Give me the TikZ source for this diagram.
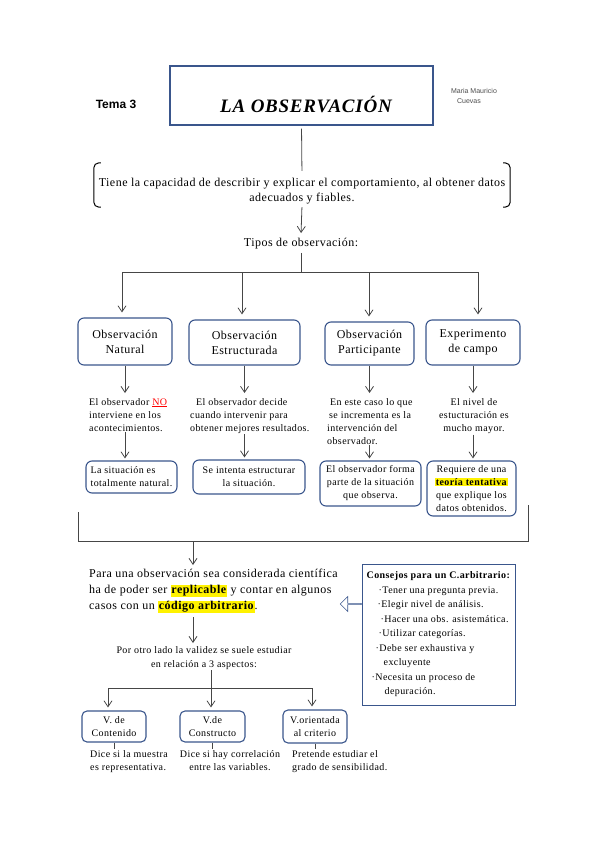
\documentclass[tikz,border=0pt]{standalone}
\usepackage{fontspec}
\setmainfont[LetterSpace=4]{Liberation Serif}
\newfontfamily\headfont{Liberation Sans}
\usepackage{tikz}
\usetikzlibrary{arrows.meta,shapes.arrows}
\definecolor{boxblue}{RGB}{58,86,140}
\definecolor{linegray}{RGB}{70,70,70}
\newcommand{\markword}[1]{{\setlength{\fboxsep}{0.5pt}\colorbox{yellow}{\textbf{#1}}}}
\tikzset{
  obs line/.style={draw=linegray, line width=0.8pt},
  obs arrow/.style={obs line, -{Straight Barb[length=6pt,width=8pt]}},
  type box/.style={draw=boxblue, line width=1.1pt, rounded corners=6pt, align=center,
    font=\fontsize{12}{15}\selectfont, inner sep=1pt},
  sub box/.style={type box, font=\fontsize{10}{13}\selectfont},
  val box/.style={type box, rounded corners=5pt, font=\fontsize{10}{12.5}\selectfont},
  note/.style={align=left, font=\fontsize{10}{13}\selectfont, inner sep=1pt},
}
\begin{document}
\begin{tikzpicture}[x=1pt,y=-1pt]
\useasboundingbox (0,0) rectangle (599,848);

% title
\node[draw=boxblue, line width=1.2pt, minimum width=263pt, minimum height=59pt] (titlebox) at (301.5,95.5) {};
\node[font=\fontsize{19}{21}\selectfont\bfseries\itshape] (titletext) at (306,104) {LA OBSERVACIÓN};
\node[font=\headfont\bfseries\fontsize{12}{14}\selectfont] (tema) at (116,104) {Tema 3};
\node[font=\headfont\fontsize{7}{10}\selectfont, text=gray!60!black, align=left] (autor) at (474,96) {Maria Mauricio\\\hspace{6pt}Cuevas};

\node[align=center, minimum width=416pt, font=\fontsize{12}{15}\selectfont, inner sep=1pt] (desc) at (302,191)
  {Tiene la capacidad de describir y explicar el comportamiento, al obtener datos\\adecuados y fiables.};
\draw[obs line, shorten <=3pt, shorten >=6pt] (titlebox.south) -- (desc.north);
\draw[line width=1pt, rounded corners=5pt] ([xshift=7pt,yshift=14pt]desc.north west) -- ([yshift=14pt]desc.north west)
  -- ([yshift=-2pt]desc.south west) -- ([xshift=7pt,yshift=-2pt]desc.south west);
\draw[line width=1pt, rounded corners=5pt] ([xshift=-7pt,yshift=14pt]desc.north east) -- ([yshift=14pt]desc.north east)
  -- ([yshift=-2pt]desc.south east) -- ([xshift=-7pt,yshift=-2pt]desc.south east);

\node[font=\fontsize{12}{15}\selectfont] (tipos) at (301,244) {Tipos de observación:};
\draw[obs arrow, shorten <=2pt, shorten >=2pt] (desc.south) -- (tipos.north);

% types
\node[type box, minimum width=94pt, minimum height=47pt] (natural) at (125,341.5) {Observación\\Natural};
\node[type box, minimum width=111pt, minimum height=45pt] (estruct) at (244.5,342.5) {Observación\\Estructurada};
\node[type box, minimum width=89pt, minimum height=43pt] (partic) at (369.5,343.5) {Observación\\Participante};
\node[type box, minimum width=94pt, minimum height=45pt] (campo) at (473,342.5) {Experimento\\de campo};

\coordinate (split a) at (122,272);
\coordinate (split b) at (242,272);
\coordinate (split c) at (369,272);
\coordinate (split d) at (478,272);
\draw[obs line] (tipos.south) -- (tipos.south |- split a);
\draw[obs line] (split a) -- (split d);
\foreach \s/\t in {a/natural, b/estruct, c/partic, d/campo}
  \draw[obs arrow, shorten >=5pt] (split \s) -- (split \s |- \t.north);

% notes
\node[note, anchor=north west] (nat note) at (88,397)
  {El observador \textcolor{red}{\underline{NO}}\\interviene en los\\acontecimientos.};
\node[note, anchor=north west] (est note) at (189,397)
  {\hspace{6pt}El observador decide\\cuando intervenir para\\obtener mejores resultados.};
\node[note, anchor=north west] (par note) at (326,397)
  {\hspace{3pt}En este caso lo que\\\hspace{2pt}se incrementa es la\\intervención del\\observador.};
\node[note, anchor=north, align=center] (exp note) at (474,397)
  {El nivel de\\estucturación es\\mucho mayor.};
\foreach \t/\n in {natural/nat note, estruct/est note, partic/par note, campo/exp note}
  \draw[obs arrow, shorten >=4pt] (\t.south) -- (\t.south |- \n.north);

\node[sub box, align=left, minimum width=91pt, minimum height=32pt] (nat box) at (131.5,477)
  {La situación es\\totalmente natural.};
\node[sub box, minimum width=112pt, minimum height=34pt] (est box) at (249,477)
  {Se intenta estructurar\\la situación.};
\node[sub box, minimum width=101pt, minimum height=45pt] (par box) at (370.5,483.5)
  {El observador forma\\parte de la situación\\que observa.};
\node[sub box, minimum width=89pt, minimum height=55pt] (exp box) at (471.5,488.5)
  {Requiere de una\\\markword{teoría tentativa}\\que explique los\\datos obtenidos.};
\foreach \t/\n/\b in {natural/nat note/nat box, estruct/est note/est box, partic/par note/par box, campo/exp note/exp box}
  \draw[obs arrow, shorten >=2pt] (\t.south |- \n.south) -- (\t.south |- \b.north);

% join
\coordinate (join a) at (78,512);
\coordinate (join b) at (78,541);
\coordinate (join c) at (528,541);
\coordinate (join d) at (528,505);
\coordinate (join m) at (193,541);
\draw[obs line] (join a) -- (join b) -- (join c) -- (join d);

\node[note, anchor=north west, font=\fontsize{12}{16}\selectfont] (para) at (88,568)
  {Para una observación sea considerada científica\\ha de poder ser \markword{replicable} y contar en algunos\\casos con un \markword{código arbitrario}.};
\draw[obs arrow, shorten >=3pt] (join m) -- (join m |- para.north);

\node[draw=boxblue, line width=1pt, minimum width=153pt, minimum height=141pt, align=left,
  font=\fontsize{10}{14.5}\selectfont, inner sep=0pt] (consejos) at (438.5,634.5)
  {\textbf{Consejos para un C.arbitrario:}\\
   \hspace{12pt}·Tener una pregunta previa.\\
   \hspace{11pt}·Elegir nivel de análisis.\\
   \hspace{14pt}·Hacer una obs. asistemática.\\
   \hspace{12pt}·Utilizar categorías.\\
   \hspace{9pt}·Debe ser exhaustiva y\\
   \hspace{17pt}excluyente\\
   \hspace{5pt}·Necesita un proceso de\\
   \hspace{18pt}depuración.};
\node[single arrow, draw=boxblue, line width=0.6pt, shape border rotate=180, minimum height=21pt,
  minimum width=15pt, single arrow head extend=3.5pt, inner sep=0pt] (hint) at (351,604) {};

\node[align=center, font=\fontsize{10}{14}\selectfont, inner sep=1pt, anchor=north] (otro) at (204,645)
  {Por otro lado la validez se suele estudiar\\en relación a 3 aspectos:};
\draw[obs arrow, shorten <=3pt, shorten >=2pt] (join m |- para.south) -- (join m |- otro.north);

% validity
\node[val box, minimum width=64pt, minimum height=31pt] (contenido) at (114,726.5) {V. de\\Contenido};
\node[val box, minimum width=65pt, minimum height=31pt] (constructo) at (212.5,726.5) {V.de\\Constructo};
\node[val box, minimum width=64pt, minimum height=33pt] (criterio) at (315,726.5) {V.orientada\\al criterio};

\coordinate (val a) at (108,688);
\coordinate (val b) at (211,688);
\coordinate (val c) at (312,688);
\draw[obs line] (val a) -- (val c);
\draw[obs arrow, shorten >=3pt] (val b |- otro.south) -- (val b |- constructo.north);
\draw[obs arrow, shorten >=3pt] (val a) -- (val a |- contenido.north);
\draw[obs arrow, shorten >=3pt] (val c) -- (val c |- criterio.north);

\node[note, anchor=north west] (muestra) at (89,749) {Dice si la muestra\\es representativa.};
\node[note, anchor=north, align=center] (correl) at (230,749) {Dice si hay correlación\\entre las variables.};
\node[note, anchor=north west] (sensib) at (291,749) {Pretende estudiar el\\grado de sensibilidad.};
\foreach \t/\n in {contenido/muestra, constructo/correl, criterio/sensib}
  \draw[obs line] (\t.south) -- (\t.south |- \n.north);
\end{tikzpicture}
\end{document}
